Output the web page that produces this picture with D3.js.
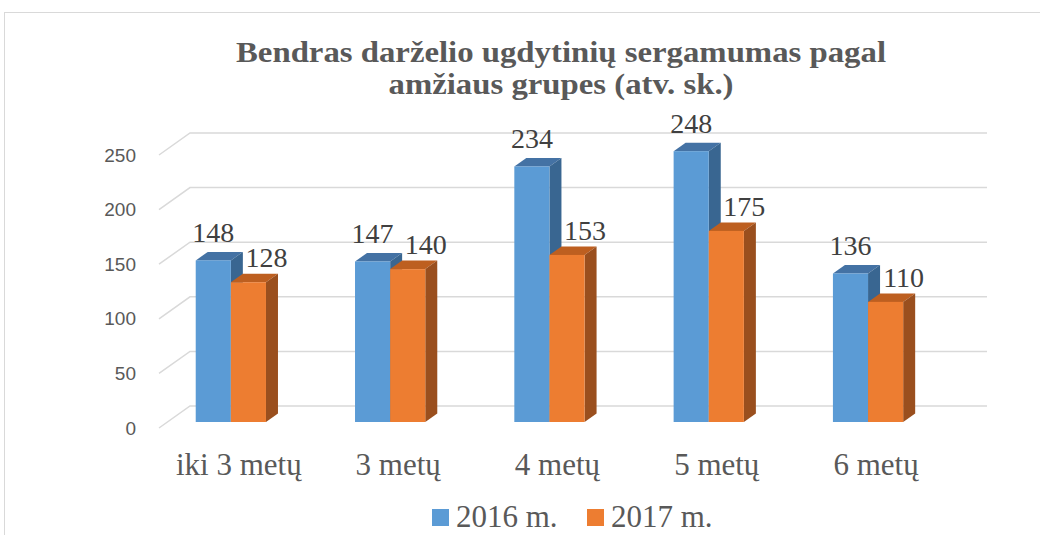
<!DOCTYPE html>
<html>
<head>
<meta charset="utf-8">
<script src="https://cdn.jsdelivr.net/npm/d3@7"></script>
<style>
  body { margin: 0; background: #fff; }
  svg { display: block; }
  .serif { font-family: "Liberation Serif", "Times New Roman", Times, "DejaVu Serif", serif; }
  .sans { font-family: "Liberation Sans", Arial, sans-serif; }
</style>
</head>
<body>
<svg id="chart" width="1040" height="535"></svg>
<script>
const categories = ["iki 3 metų", "3 metų", "4 metų", "5 metų", "6 metų"];
const seriesNames = ["2016 m.", "2017 m."];
const values2016 = [148, 147, 234, 248, 136];
const values2017 = [128, 140, 153, 175, 110];
const yTicks = [0, 50, 100, 150, 200, 250];
const titleLines = ["Bendras darželio ugdytinių sergamumas pagal", "amžiaus grupes (atv. sk.)"];

const TEXT = "#595959";

// front face colour, top face, right side face
const palette = [
  { front: "#5b9bd5", top: "#4472a4", side: "#396691" },
  { front: "#ed7d31", top: "#bd5f20", side: "#9a4f1e" },
];

const svg = d3.select("#chart");

// chart border
svg.append("rect")
  .attr("x", 4.5).attr("y", 12.5)
  .attr("width", 1060).attr("height", 560)
  .attr("fill", "none").attr("stroke", "#d9d9d9").attr("stroke-width", 1);

// title (the original is a bit stretched sideways)
const titleWidths = [650, 345];
svg.append("g")
  .selectAll("text")
  .data(titleLines)
  .join("text")
  .attr("class", "serif")
  .attr("text-anchor", "middle")
  .attr("font-weight", "bold")
  .attr("font-size", 30).attr("fill", TEXT)
  .attr("x", 561)
  .attr("y", (d, i) => 62 + i * 32)
  .attr("textLength", (d, i) => titleWidths[i])
  .attr("lengthAdjust", "spacingAndGlyphs")
  .text((d) => d);

const x = d3.scaleBand()
  .domain(categories)
  .range([151.2, 947.7])
  .paddingInner(0.559)
  .paddingOuter(0.2795);
const xs = d3.scaleBand().domain(seriesNames).range([0, x.bandwidth()]);
const y = d3.scaleLinear().domain([0, 250]).range([422, 149]);

// 3d offsets
const wall = { dx: 22, dy: -16 };
const floorFront = { dx: -9, dy: 6 };
const plane = [168, 965];
const depth = { dx: 12, dy: -8.5 };

// gridlines: diagonal on the side wall + back wall line
svg.append("g")
  .selectAll("path")
  .data(yTicks)
  .join("path")
  .attr("d", (t) => {
    const yy = y(t);
    return `M${plane[0] + floorFront.dx},${yy + floorFront.dy}` +
      `L${plane[0] + wall.dx},${yy + wall.dy}` +
      `L${plane[1] + wall.dx},${yy + wall.dy}`;
  })
  .attr("fill", "none").attr("stroke", "#d9d9d9").attr("stroke-width", 1.5);

// y tick labels
svg.append("g")
  .selectAll("text")
  .data(yTicks)
  .join("text")
  .attr("class", "sans")
  .attr("x", 136)
  .attr("y", (t) => y(t) + floorFront.dy)
  .attr("dy", "0.35em")
  .attr("text-anchor", "end")
  .attr("font-size", 19).attr("fill", TEXT)
  .text((t) => t);

// bars
const rows = [];
categories.forEach((c, i) => {
  rows.push({ cat: c, s: 0, v: values2016[i] });
  rows.push({ cat: c, s: 1, v: values2017[i] });
});

const bar = svg.append("g")
  .selectAll("g")
  .data(rows)
  .join("g");

bar.each(function (d) {
  const g = d3.select(this);
  const col = palette[d.s];
  const x0 = x(d.cat) + xs(seriesNames[d.s]);
  const x1 = x0 + xs.bandwidth();
  const y0 = y(0);
  const yt = y(d.v);
  g.append("path")
    .attr("d", `M${x0},${yt}L${x1},${yt}L${x1 + depth.dx},${yt + depth.dy}L${x0 + depth.dx},${yt + depth.dy}Z`)
    .attr("fill", col.top);
  g.append("path")
    .attr("d", `M${x1},${yt}L${x1 + depth.dx},${yt + depth.dy}L${x1 + depth.dx},${y0 + depth.dy}L${x1},${y0}Z`)
    .attr("fill", col.side);
  g.append("rect")
    .attr("x", x0).attr("y", yt)
    .attr("width", x1 - x0).attr("height", y0 - yt)
    .attr("fill", col.front);
});

// data labels
svg.append("g")
  .selectAll("text")
  .data(rows)
  .join("text")
  .attr("class", "serif")
  .attr("x", (d) => x(d.cat) + xs(seriesNames[d.s]) + xs.bandwidth() / 2 + (d.s ? 18 : 0))
  .attr("y", (d) => y(d.v) - (d.s ? 15 : 18))
  .attr("text-anchor", "middle")
  .attr("font-size", 28).attr("fill", "#404040")
  .text((d) => d.v);

// category labels
svg.append("g")
  .selectAll("text")
  .data(categories)
  .join("text")
  .attr("class", "serif")
  .attr("x", (c) => x(c) + x.bandwidth() / 2 + 8)
  .attr("y", 475)
  .attr("text-anchor", "middle")
  .attr("font-size", 31).attr("fill", TEXT)
  .text((c) => c);

// legend
const legendX = [432, 587];
const legend = svg.append("g")
  .selectAll("g")
  .data(seriesNames)
  .join("g")
  .attr("transform", (d, i) => `translate(${legendX[i]},509)`);
legend.append("rect")
  .attr("width", 17).attr("height", 17)
  .attr("fill", (d, i) => palette[i].front);
legend.append("text")
  .attr("class", "serif")
  .attr("x", 24).attr("y", 18)
  .attr("font-size", 31).attr("fill", TEXT)
  .text((d) => d);
</script>
</body>
</html>
